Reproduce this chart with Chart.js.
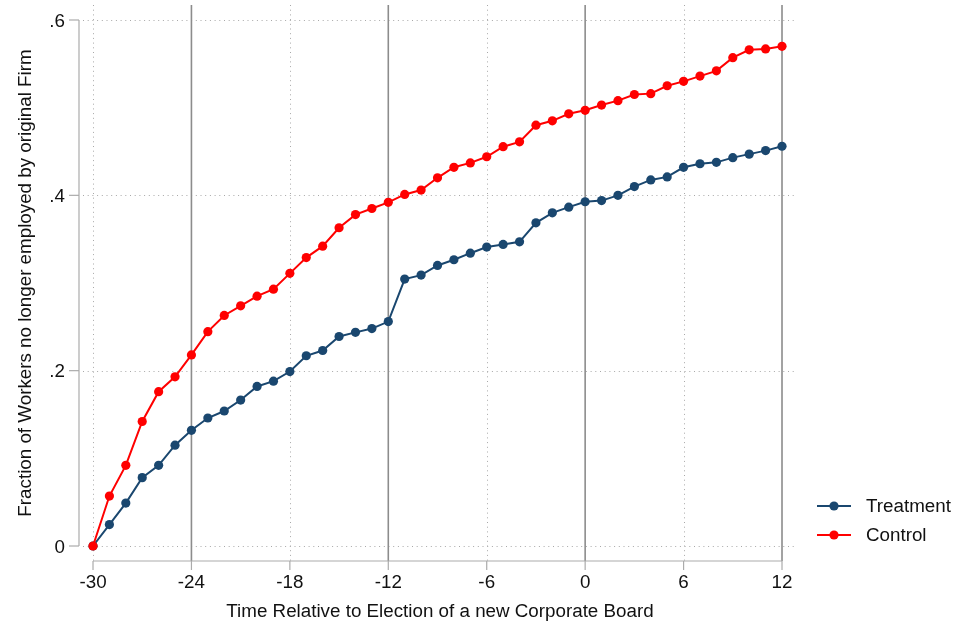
<!DOCTYPE html>
<html>
<head>
<meta charset="utf-8">
<script src="https://cdn.jsdelivr.net/npm/chart.js@4/dist/chart.umd.min.js"></script>
<style>
  html, body { margin: 0; padding: 0; background: #ffffff; }
  #wrap { width: 958px; height: 629px; }
</style>
</head>
<body>
<div id="wrap"><canvas id="chart" width="958" height="629"></canvas></div>
<script>
// Months relative to the election of a new corporate board
const periods = [-30, -29, -28, -27, -26, -25, -24, -23, -22, -21, -20, -19, -18, -17, -16, -15,
                 -14, -13, -12, -11, -10, -9, -8, -7, -6, -5, -4, -3, -2, -1,
                 0, 1, 2, 3, 4, 5, 6, 7, 8, 9, 10, 11, 12];

// Cumulative fraction of workers who have left the original firm
const treatment = [0, 0.0245, 0.049, 0.078, 0.092, 0.115, 0.132, 0.146, 0.154, 0.1665, 0.182, 0.188, 0.199, 0.217, 0.223, 0.239,
                   0.2437, 0.248, 0.256, 0.3045, 0.309, 0.320, 0.3265, 0.334, 0.341, 0.344, 0.347, 0.3686, 0.380, 0.3865,
                   0.3927, 0.394, 0.400, 0.410, 0.4176, 0.421, 0.432, 0.436, 0.4376, 0.443, 0.447, 0.451, 0.456];
const control = [0, 0.057, 0.092, 0.142, 0.176, 0.193, 0.218, 0.2445, 0.263, 0.274, 0.285, 0.293, 0.311, 0.329, 0.342, 0.363,
                 0.378, 0.385, 0.392, 0.401, 0.406, 0.420, 0.432, 0.437, 0.444, 0.4555, 0.461, 0.480, 0.485, 0.493,
                 0.497, 0.503, 0.508, 0.515, 0.516, 0.525, 0.530, 0.536, 0.542, 0.557, 0.566, 0.567, 0.570];

// Axis ticks and reference lines
const xTicks = [-30, -24, -18, -12, -6, 0, 6, 12];
const yTicks = [0, 0.2, 0.4, 0.6];
const markerLines = [-24, -12, 0, 12];   // solid vertical lines
const dottedLines = [-30, -18, -6, 6];   // dotted vertical grid

const seriesNames = ['Treatment', 'Control'];
const NAVY = '#1a476f';
const RED = '#ff0000';
const FONT = '"Liberation Sans", Arial, Helvetica, sans-serif';
const FONT_SIZE = 18.8;

Chart.defaults.font.family = FONT;
Chart.defaults.font.size = FONT_SIZE;
Chart.defaults.color = '#111111';

const toPoints = vals => periods.map((p, i) => ({ x: p, y: vals[i] }));

const frame = {
  id: 'frame',
  beforeDatasetsDraw(chart) {
    const { ctx, chartArea: a, scales: { x, y } } = chart;
    const seg = (x1, y1, x2, y2) => { ctx.beginPath(); ctx.moveTo(x1, y1); ctx.lineTo(x2, y2); ctx.stroke(); };
    ctx.save();
    // dotted grid
    ctx.strokeStyle = '#a8a8a8';
    ctx.lineWidth = 1;
    ctx.setLineDash([1, 3.7]);
    yTicks.forEach(v => { const py = Math.round(y.getPixelForValue(v)) + 0.5; seg(a.left, py, a.right, py); });
    dottedLines.forEach(v => { const px = Math.round(x.getPixelForValue(v)) + 0.5; seg(px, a.top, px, a.bottom); });
    ctx.setLineDash([]);
    // solid reference lines
    ctx.strokeStyle = '#8c8c8c';
    ctx.lineWidth = 1.6;
    markerLines.forEach(v => { const px = x.getPixelForValue(v); seg(px, a.top, px, a.bottom); });
    // axis lines with ticks, spanning the labelled range only
    ctx.strokeStyle = '#ababab';
    ctx.lineWidth = 1.2;
    const ax = a.left - 4;
    seg(ax, y.getPixelForValue(yTicks[yTicks.length - 1]), ax, y.getPixelForValue(yTicks[0]));
    yTicks.forEach(v => { const py = y.getPixelForValue(v); seg(ax - 10, py, ax, py); });
    const ay = a.bottom;
    seg(x.getPixelForValue(xTicks[0]), ay, x.getPixelForValue(xTicks[xTicks.length - 1]), ay);
    xTicks.forEach(v => { const px = x.getPixelForValue(v); seg(px, ay, px, ay + 9); });
    ctx.restore();
  },
  afterDraw(chart) {
    const { ctx } = chart;
    const colors = [NAVY, RED];
    ctx.save();
    seriesNames.forEach((name, i) => {
      const cy = 506 + i * 29;
      ctx.strokeStyle = colors[i];
      ctx.lineWidth = 2;
      ctx.beginPath(); ctx.moveTo(817, cy); ctx.lineTo(851, cy); ctx.stroke();
      ctx.fillStyle = colors[i];
      ctx.beginPath(); ctx.arc(834, cy, 4.6, 0, Math.PI * 2); ctx.fill();
      ctx.fillStyle = '#111111';
      ctx.font = FONT_SIZE + 'px ' + FONT;
      ctx.textBaseline = 'middle';
      ctx.textAlign = 'left';
      ctx.fillText(name, 866, cy + 1);
    });
    ctx.restore();
  }
};

new Chart(document.getElementById('chart'), {
  type: 'line',
  data: {
    datasets: [
      {
        label: seriesNames[0],
        data: toPoints(treatment),
        borderColor: NAVY, backgroundColor: NAVY,
        pointBackgroundColor: NAVY, pointBorderColor: NAVY,
        borderWidth: 2, pointRadius: 4.6, pointBorderWidth: 0,
        tension: 0, order: 1
      },
      {
        label: seriesNames[1],
        data: toPoints(control),
        borderColor: RED, backgroundColor: RED,
        pointBackgroundColor: RED, pointBorderColor: RED,
        borderWidth: 2, pointRadius: 4.6, pointBorderWidth: 0,
        tension: 0, order: 0
      }
    ]
  },
  options: {
    responsive: false,
    animation: false,
    devicePixelRatio: 1,
    layout: { padding: { left: 0, right: 161, top: 5, bottom: 0 } },
    plugins: { legend: { display: false }, tooltip: { enabled: false } },
    scales: {
      x: {
        type: 'linear',
        min: -30.61, max: 12.914,
        grid: { display: false, drawTicks: false },
        border: { display: false },
        afterBuildTicks: s => { s.ticks = xTicks.map(v => ({ value: v })); },
        afterFit: s => { s.height = 68; s.paddingLeft = 0; s.paddingRight = 0; },
        ticks: { padding: 11, maxRotation: 0, autoSkip: false, color: '#111111' },
        title: {
          display: true,
          text: 'Time Relative to Election of a new Corporate Board',
          padding: { top: 0, bottom: 6 },
          color: '#111111'
        }
      },
      y: {
        type: 'linear',
        min: -0.0171, max: 0.6171,
        grid: { display: false, drawTicks: false },
        border: { display: false },
        afterBuildTicks: s => { s.ticks = yTicks.map(v => ({ value: v })); },
        afterFit: s => { s.width = 83; s.paddingTop = 0; s.paddingBottom = 0; },
        ticks: {
          padding: 18,
          labelOffset: 1.5,
          color: '#111111',
          callback: v => (v === 0 ? '0' : String(Math.round(v * 10) / 10).replace(/^0/, ''))
        },
        title: {
          display: true,
          text: 'Fraction of Workers no longer employed by original Firm',
          padding: { top: 15, bottom: 0 },
          color: '#111111'
        }
      }
    }
  },
  plugins: [frame]
});
</script>
</body>
</html>
